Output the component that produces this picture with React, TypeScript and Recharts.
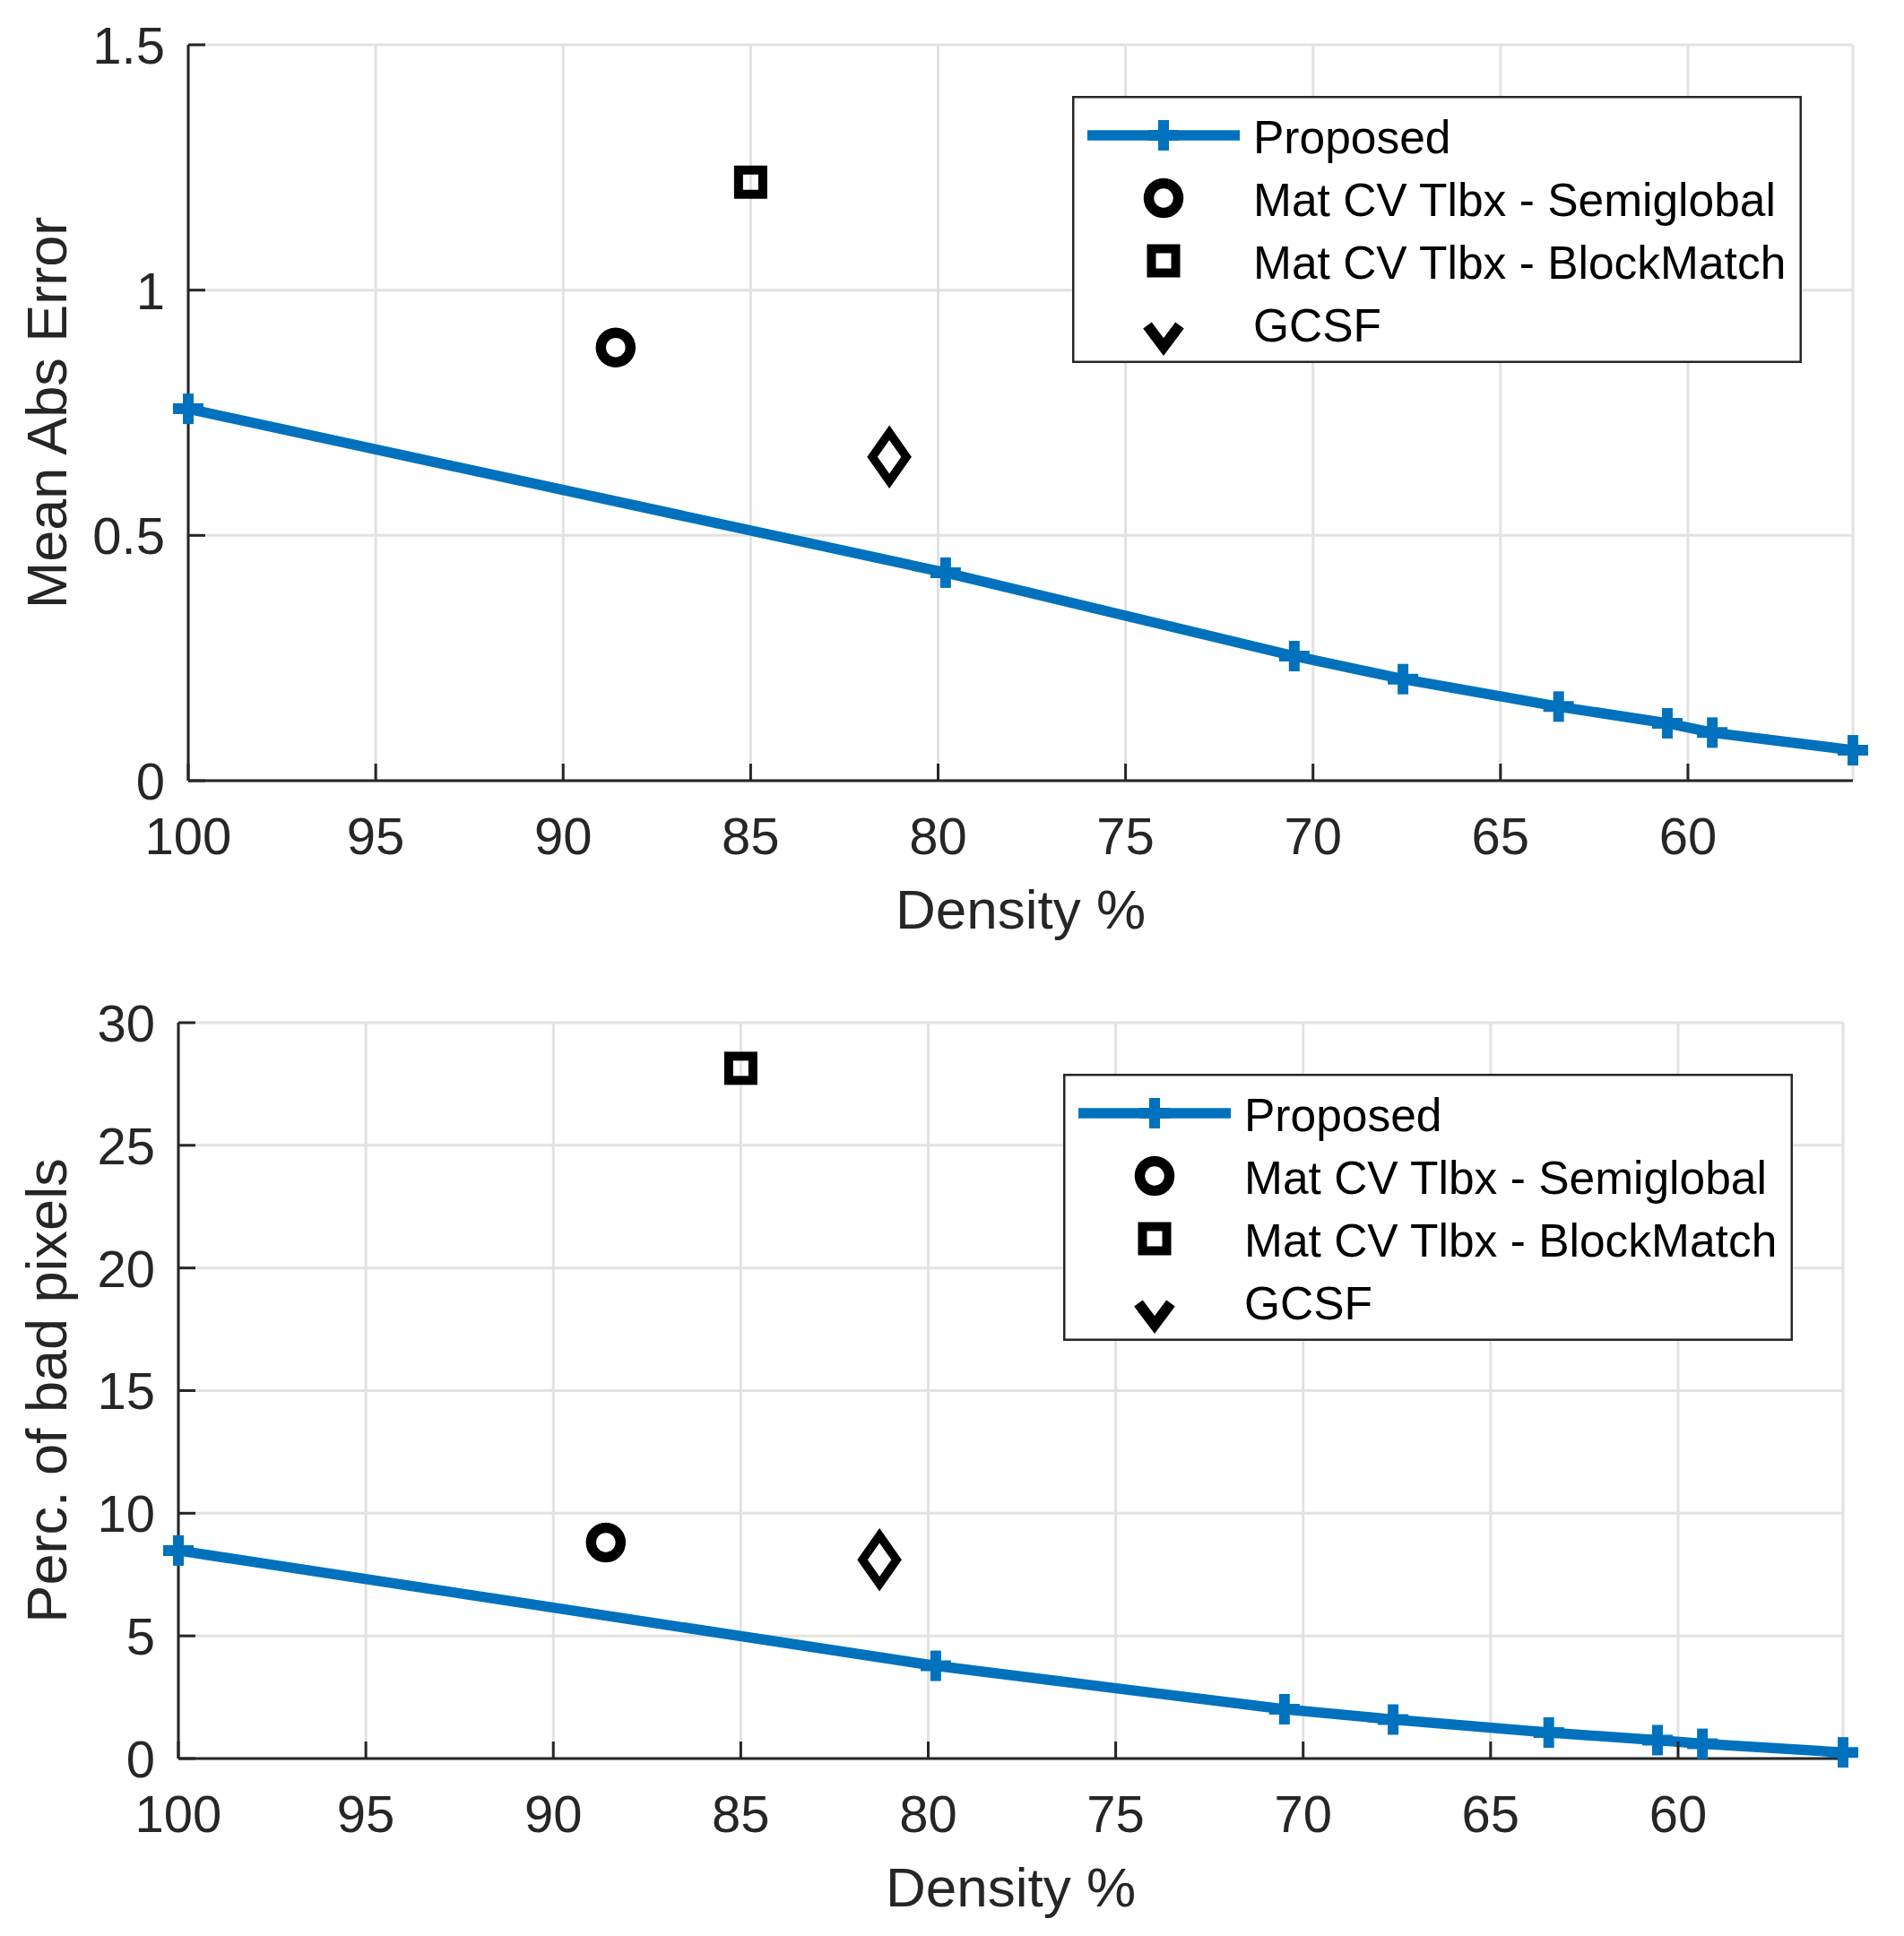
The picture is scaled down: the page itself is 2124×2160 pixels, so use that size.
import React from "react";
import { CartesianGrid, ComposedChart, Label, Legend, Line, Scatter, XAxis, YAxis } from "recharts";

// shared x positions (Density %)
const density = [100, 79.8, 70.5, 67.6, 63.45, 60.55, 59.35, 55.6];
const densityTicks = [100, 95, 90, 85, 80, 75, 70, 65, 60];

// top panel: mean abs error
const maeProposed = [0.758, 0.424, 0.254, 0.207, 0.151, 0.117, 0.098, 0.062];
const maeTicks = [0, 0.5, 1, 1.5];

// bottom panel: percentage of bad pixels
const badProposed = [8.48, 3.78, 2.01, 1.59, 1.06, 0.75, 0.6, 0.25];
const badTicks = [0, 5, 10, 15, 20, 25, 30];

// single-point methods
const semiglobalDensity = [88.6];
const blockMatchDensity = [85.0];
const gcsfDensity = [81.3];
const maeSemiglobal = [0.883];
const maeBlockMatch = [1.22];
const maeGcsf = [0.66];
const badSemiglobal = [8.81];
const badBlockMatch = [28.14];
const badGcsf = [8.1];

const legendNames = ["Proposed", "Mat CV Tlbx - Semiglobal", "Mat CV Tlbx - BlockMatch", "GCSF"];

const FONT = "'Liberation Sans', Arial, Helvetica, sans-serif";
const AXIS = "#262626";
const BLUE = "#0072BD";
const GRID = "#e2e2e2";
const TICK_LEN = 19;

const toPoints = (xs: number[], ys: number[]) => xs.map((d, i) => ({ density: d, value: ys[i] }));

function XTick(props: any) {
  const { x, y, payload } = props;
  return (
    <g>
      <line x1={x} y1={y} x2={x} y2={y - TICK_LEN} stroke={AXIS} strokeWidth={3} />
      <text x={x} y={y + 82} textAnchor="middle" fontSize={58} fill={AXIS} fontFamily={FONT}>
        {payload.value}
      </text>
    </g>
  );
}

function YTick(props: any) {
  const { x, y, payload } = props;
  return (
    <g>
      <line x1={x} y1={y} x2={x + TICK_LEN} y2={y} stroke={AXIS} strokeWidth={3} />
      <text x={x - 26} y={y} dy="0.36em" textAnchor="end" fontSize={58} fill={AXIS} fontFamily={FONT}>
        {payload.value}
      </text>
    </g>
  );
}

function PlusMark({ cx, cy }: { cx: number; cy: number }) {
  return (
    <g stroke={BLUE} strokeWidth={12}>
      <line x1={cx - 17} y1={cy} x2={cx + 17} y2={cy} />
      <line x1={cx} y1={cy - 17} x2={cx} y2={cy + 17} />
    </g>
  );
}

function CircleMark({ cx, cy }: any) {
  return <circle cx={cx} cy={cy} r={16.5} fill="none" stroke="#000" strokeWidth={11.5} />;
}

function SquareMark({ cx, cy }: any) {
  return <rect x={cx - 13.5} y={cy - 13.5} width={27} height={27} fill="none" stroke="#000" strokeWidth={10} />;
}

function DiamondMark({ cx, cy }: any) {
  return (
    <path
      d={`M${cx} ${cy - 27} L${cx + 19} ${cy} L${cx} ${cy + 27} L${cx - 19} ${cy} Z`}
      fill="none"
      stroke="#000"
      strokeWidth={9.5}
      strokeLinejoin="miter"
    />
  );
}

function LegendBox() {
  const rows = [44, 114, 184, 254];
  const symX = 102;
  return (
    <svg width={814} height={298} style={{ display: "block" }}>
      <rect x={1.25} y={1.25} width={811.5} height={295.5} fill="#fff" stroke={AXIS} strokeWidth={2.5} />
      <line x1={17} y1={rows[0]} x2={187} y2={rows[0]} stroke={BLUE} strokeWidth={11.5} />
      <PlusMark cx={symX} cy={rows[0]} />
      <CircleMark cx={symX} cy={rows[1]} />
      <SquareMark cx={symX} cy={rows[2]} />
      <path
        d={`M${symX - 18} ${rows[3] + 2} L${symX} ${rows[3] + 26} L${symX + 18} ${rows[3] + 2}`}
        fill="none"
        stroke="#000"
        strokeWidth={12}
      />
      {legendNames.map((name, i) => (
        <text key={name} x={202} y={rows[i] + 20} fontSize={51.5} fill="#000" fontFamily={FONT}>
          {name}
        </text>
      ))}
    </svg>
  );
}

function XTitle(props: any) {
  const vb = props.viewBox || {};
  return (
    <text x={vb.x + vb.width / 2} y={vb.y + 165} textAnchor="middle" fontSize={62} fill={AXIS} fontFamily={FONT}>
      Density %
    </text>
  );
}

function makeYTitle(text: string) {
  return (props: any) => {
    const vb = props.viewBox || {};
    const cx = vb.x + 52;
    const cy = vb.y + vb.height / 2;
    return (
      <text
        x={cx}
        y={cy}
        dy="0.355em"
        transform={`rotate(-90, ${cx}, ${cy})`}
        textAnchor="middle"
        fontSize={63}
        fill={AXIS}
        fontFamily={FONT}
      >
        {text}
      </text>
    );
  };
}

type PanelProps = {
  yLabel: string;
  yTicks: number[];
  proposed: number[];
  semiglobal: number[];
  blockMatch: number[];
  gcsf: number[];
  margin: { top: number; right: number; left: number; bottom: number };
  yAxisWidth: number;
  xAxisHeight: number;
  legendLeft: number;
  legendTop: number;
};

function Panel(p: PanelProps) {
  const yMax = p.yTicks[p.yTicks.length - 1];
  return (
    <ComposedChart width={2124} height={1080} margin={p.margin}>
      <CartesianGrid stroke={GRID} strokeWidth={3} />
      <XAxis
        type="number"
        dataKey="density"
        domain={["dataMin", "dataMax"]}
        reversed
        ticks={densityTicks}
        interval={0}
        height={p.xAxisHeight}
        tickSize={0}
        tickMargin={0}
        tickLine={false}
        axisLine={{ stroke: AXIS, strokeWidth: 3 }}
        tick={<XTick />}
      >
        <Label content={<XTitle />} />
      </XAxis>
      <YAxis
        type="number"
        dataKey="value"
        domain={[0, yMax]}
        ticks={p.yTicks}
        interval={0}
        width={p.yAxisWidth}
        tickSize={0}
        tickMargin={0}
        tickLine={false}
        axisLine={{ stroke: AXIS, strokeWidth: 3 }}
        tick={<YTick />}
      >
        <Label content={makeYTitle(p.yLabel)} />
      </YAxis>
      <Line
        data={toPoints(density, p.proposed)}
        dataKey="value"
        type="linear"
        stroke={BLUE}
        strokeWidth={11.5}
        dot={(d: any) => <PlusMark key={`p${d.index}`} cx={d.cx} cy={d.cy} />}
        activeDot={false}
        isAnimationActive={false}
      />
      <Scatter
        data={toPoints(semiglobalDensity, p.semiglobal)}
        dataKey="value"
        shape={(s: any) => <CircleMark cx={s.cx} cy={s.cy} />}
        isAnimationActive={false}
      />
      <Scatter
        data={toPoints(blockMatchDensity, p.blockMatch)}
        dataKey="value"
        shape={(s: any) => <SquareMark cx={s.cx} cy={s.cy} />}
        isAnimationActive={false}
      />
      <Scatter
        data={toPoints(gcsfDensity, p.gcsf)}
        dataKey="value"
        shape={(s: any) => <DiamondMark cx={s.cx} cy={s.cy} />}
        isAnimationActive={false}
      />
      <Legend
        layout="vertical"
        align="center"
        verticalAlign="middle"
        content={() => <LegendBox />}
        wrapperStyle={{ left: p.legendLeft, top: p.legendTop, width: 814, height: 298 }}
      />
    </ComposedChart>
  );
}

export default function App() {
  return (
    <div style={{ position: "absolute", left: 0, top: 0, width: 2124, height: 2160, background: "#fff" }}>
      <Panel
        yLabel="Mean Abs Error"
        yTicks={maeTicks}
        proposed={maeProposed}
        semiglobal={maeSemiglobal}
        blockMatch={maeBlockMatch}
        gcsf={maeGcsf}
        margin={{ top: 50, right: 57, left: 0, bottom: 0 }}
        yAxisWidth={210}
        xAxisHeight={209}
        legendLeft={1196}
        legendTop={107}
      />
      <Panel
        yLabel="Perc. of bad pixels"
        yTicks={badTicks}
        proposed={badProposed}
        semiglobal={badSemiglobal}
        blockMatch={badBlockMatch}
        gcsf={badGcsf}
        margin={{ top: 61, right: 68, left: 0, bottom: 0 }}
        yAxisWidth={199}
        xAxisHeight={198}
        legendLeft={1186}
        legendTop={118}
      />
    </div>
  );
}
